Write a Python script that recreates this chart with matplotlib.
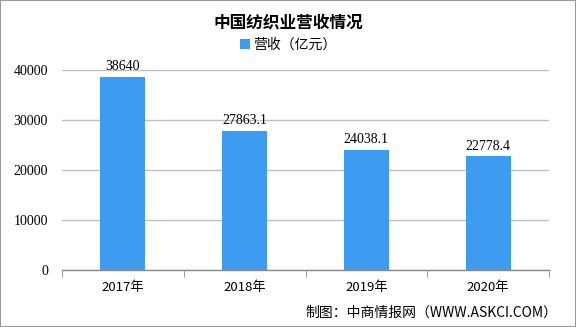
import matplotlib
matplotlib.use("Agg")
import matplotlib.pyplot as plt
from matplotlib.patches import Rectangle

plt.rcParams['font.family'] = ['Noto Sans CJK SC', 'DejaVu Sans']

categories = ["2017年", "2018年", "2019年", "2020年"]
values = [38640, 27863.1, 24038.1, 22778.4]
labels = ["38640", "27863.1", "24038.1", "22778.4"]
yticks = [0, 10000, 20000, 30000, 40000]

fig = plt.figure(figsize=(5.76, 3.27), dpi=100)
ax = fig.add_axes([62/576, 1-270/327, (549-62)/576, 200/327])

x = list(range(len(categories)))
ax.bar(x, values, width=0.37, color="#3D9CF0", zorder=3, label="营收（亿元）")
for xi, v, t in zip(x, values, labels):
    ax.text(xi, v + 700, t, ha="center", va="bottom", fontsize=10,
            family=["Liberation Serif", "Noto Sans CJK SC"])

ax.set_xlim(-0.5, 3.5)
ax.set_ylim(0, 40000)
ax.set_yticks(yticks)
ax.set_yticklabels([str(t) for t in yticks], family=["Liberation Serif"], fontsize=10)
ax.yaxis.grid(True, color="#BFBFBF", linewidth=1, zorder=0)
ax.tick_params(axis="y", length=0, pad=10)
ax.set_xticks(x)
ax.set_xticklabels(categories, fontsize=9.5)
ax.set_xticks([-0.5, 0.5, 1.5, 2.5, 3.5], minor=True)
ax.tick_params(axis="x", which="major", length=0, pad=8)
ax.tick_params(axis="x", which="minor", length=5, color="#888888", direction="out")
for s in ["left", "right", "top"]:
    ax.spines[s].set_visible(False)
ax.spines["bottom"].set_color("#888888")
ax.spines["bottom"].set_linewidth(1)

fig.text(0.5, 1-22/327, "中国纺织业营收情况", ha="center", va="center",
         fontsize=12, fontweight="bold")
leg = fig.legend(loc="center", bbox_to_anchor=(0.5, 1-45/327), frameon=False,
                 fontsize=10, handlelength=0.7, handleheight=0.7, handletextpad=0.2)

fig.text(557/576, 1-313/327, "制图：中商情报网（WWW.ASKCI.COM）", ha="right", va="center",
         fontsize=10)

fig.patches.append(Rectangle((0, 0), 1, 1, transform=fig.transFigure, fill=False,
                             edgecolor="#999999", linewidth=1.5))

fig.savefig("out.png", dpi=100)
